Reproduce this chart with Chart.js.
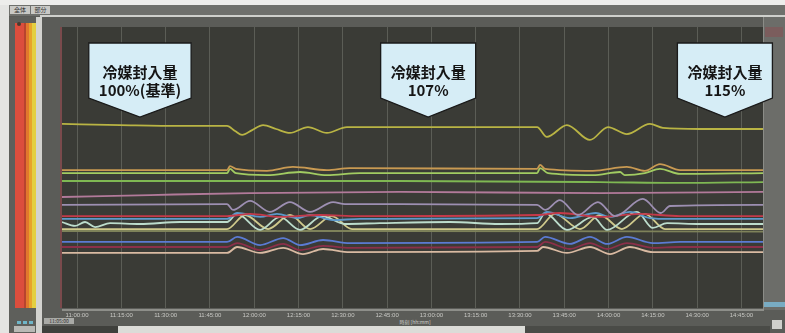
<!DOCTYPE html>
<html lang="ja">
<head>
<meta charset="utf-8">
<script src="https://cdn.jsdelivr.net/npm/chart.js@4.4.0/dist/chart.umd.min.js"></script>
<style>
  body { margin: 0; width: 785px; height: 333px; overflow: hidden; background: #5b5c58; position: relative; font-family: "Noto Sans CJK JP", "Noto Sans", sans-serif; }
  .b { position: absolute; }
  .tab { position: absolute; top: 6px; height: 8px; background: #c9c9c5; color: #333; font-size: 6px; line-height: 8px; text-align: center; }
  #grafico { position: absolute; left: 0; top: 0; }
</style>
</head>
<body>
<!-- moldura da tela do software -->
<div class="b" style="left:0;top:0;width:785px;height:5px;background:#ededeb"></div>
<div class="b" style="left:0;top:5px;width:785px;height:11px;background:#6f706c"></div>
<div class="tab" style="left:10px;width:20px">全体</div>
<div class="tab" style="left:31px;width:19px">部分</div>
<div class="b" style="left:40px;top:15px;width:745px;height:2px;background:#cfd0cc"></div>
<div class="b" style="left:0;top:5px;width:9px;height:328px;background:#e4e4e2"></div>
<div class="b" style="left:9px;top:17px;width:33px;height:316px;background:#5e5f5b"></div>
<div class="b" style="left:15px;top:23px;width:9px;height:285px;background:#dc4e3d"></div>
<div class="b" style="left:24px;top:23px;width:2px;height:285px;background:#b8442e"></div>
<div class="b" style="left:26px;top:23px;width:3px;height:285px;background:#e2782d"></div>
<div class="b" style="left:29px;top:23px;width:3px;height:285px;background:#e7a32a"></div>
<div class="b" style="left:32px;top:23px;width:4px;height:285px;background:#e3cf40"></div>
<div class="b" style="left:36px;top:17px;width:6px;height:316px;background:#d3d3cf"></div>
<div class="b" style="left:17px;top:22px;width:4px;height:4px;border-radius:2px;background:#4a3a30"></div>
<div class="b" style="left:17px;top:321px;width:4px;height:3px;background:#6fb6c8"></div>
<div class="b" style="left:23px;top:321px;width:4px;height:3px;background:#6fb6c8"></div>
<div class="b" style="left:29px;top:321px;width:4px;height:3px;background:#6fb6c8"></div>
<div class="b" style="left:14px;top:326px;width:21px;height:6px;background:#b9b9b5"></div>
<div class="b" style="left:60px;top:27px;width:2px;height:281px;background:#7a4a4c"></div>
<div class="b" style="left:763px;top:17px;width:1px;height:293px;background:#8b8c87"></div>
<div class="b" style="left:764px;top:17px;width:21px;height:293px;background:#6c6d69"></div>
<div class="b" style="left:765px;top:27px;width:18px;height:10px;background:#7b5d5d"></div>
<div class="b" style="left:764px;top:302px;width:21px;height:5px;background:#79acc3"></div>
<div class="b" style="left:62px;top:309px;width:702px;height:2px;background:#8e8f8a"></div>
<div class="b" style="left:44px;top:318px;width:30px;height:6px;background:#a9aaa6;color:#333;font-size:5px;line-height:6px;text-align:center">11:05:00</div>
<div class="b" style="left:395px;top:318px;width:40px;height:7px;color:#d0d0cc;font-size:5px;line-height:7px;text-align:center">時刻 [hh:mm]</div>
<div class="b" style="left:42px;top:326px;width:76px;height:7px;background:#3f403c"></div>
<div class="b" style="left:118px;top:326px;width:407px;height:7px;background:#dcdcd8"></div>
<div class="b" style="left:525px;top:326px;width:245px;height:7px;background:#4a4b47"></div>
<div class="b" style="left:772px;top:320px;width:10px;height:9px;background:#cfcfcb"></div>

<canvas id="grafico" width="785" height="333"></canvas>

<script>
// eixo x em minutos a partir de 11:00
const tickMinutes = [0, 15, 30, 45, 60, 75, 90, 105, 120, 135, 150, 165, 180, 195, 210, 225];
const tickLabels = ['11:00:00', '11:15:00', '11:30:00', '11:45:00', '12:00:00', '12:15:00', '12:30:00', '12:45:00',
    '13:00:00', '13:15:00', '13:30:00', '13:45:00', '14:00:00', '14:15:00', '14:30:00', '14:45:00'];

// balões (centro em minutos + texto)
const calloutTimes = [21.3, 118.9, 219.4];
const calloutLines = [['冷媒封入量', '100%(基準)'], ['冷媒封入量', '107%'], ['冷媒封入量', '115%']];

// séries: [minuto, valor em % da escala]
const serieAmarela = [[-5.1, 65.5], [14.6, 65.1], [34.9, 64.8], [50.8, 64.8], [53.5, 63.0], [55.9, 61.6], [59.3, 63.3], [63.0, 65.1], [67.4, 63.7], [72.1, 62.3], [78.2, 64.4], [84.6, 62.3], [91.4, 64.4], [109.4, 64.4], [155.8, 64.4], [159.1, 60.9], [165.9, 65.1], [173.7, 59.8], [179.8, 64.4], [186.2, 61.9], [194.0, 65.5], [198.4, 64.1], [210.9, 63.7], [232.3, 63.7]];
const serieLaranja = [[-5.1, 49.1], [50.8, 49.1], [51.8, 50.5], [53.8, 49.5], [64.3, 48.8], [73.1, 50.2], [84.6, 49.1], [92.4, 49.8], [155.8, 49.5], [156.8, 50.9], [158.5, 49.5], [174.7, 48.8], [186.2, 50.2], [192.3, 48.8], [197.4, 51.2], [204.2, 49.1], [232.3, 49.1]];
const serieVerdeClaro = [[-5.1, 48.0], [50.8, 48.0], [51.8, 49.5], [53.8, 48.0], [64.3, 47.3], [75.5, 48.4], [84.6, 47.3], [95.8, 48.0], [155.8, 48.0], [156.8, 49.8], [159.5, 48.0], [174.7, 47.3], [183.9, 48.4], [185.5, 47.3], [192.3, 48.0], [197.4, 49.5], [204.2, 47.7], [232.3, 48.0]];
const serieVerde = [[-5.1, 45.2], [109.4, 45.2], [177.1, 44.8], [204.2, 44.5], [232.3, 44.8]];
const serieRosa = [[-5.1, 39.5], [24.7, 40.2], [58.6, 40.9], [109.4, 41.3], [177.1, 40.9], [232.3, 41.3]];
const serieLavanda = [[-5.1, 36.7], [50.8, 37.0], [52.8, 34.9], [58.6, 38.1], [65.3, 34.2], [72.1, 37.7], [78.9, 34.2], [86.7, 37.7], [90.7, 37.0], [155.8, 36.7], [158.5, 34.9], [163.5, 38.4], [169.6, 33.1], [176.4, 37.7], [182.2, 32.7], [191.6, 38.8], [197.7, 33.8], [200.8, 36.3], [232.3, 36.7]];
const serieVermelha = [[-5.1, 32.7], [50.8, 32.7], [58.6, 33.5], [68.7, 32.4], [82.3, 33.1], [95.8, 32.7], [155.8, 33.1], [163.5, 33.8], [177.1, 32.4], [190.6, 33.5], [204.2, 32.7], [232.3, 32.7]];
const serieCiano = [[-5.1, 31.7], [50.8, 31.7], [54.2, 33.8], [62.0, 32.4], [67.7, 33.5], [74.5, 32.0], [78.9, 33.1], [86.7, 31.3], [95.8, 31.7], [155.8, 32.0], [159.1, 34.2], [166.9, 32.0], [175.7, 33.8], [180.5, 32.4], [187.2, 34.2], [194.0, 32.0], [200.8, 31.7], [232.3, 31.7]];
const serieBranca = [[-5.1, 30.6], [-0.7, 29.2], [2.7, 30.6], [6.1, 28.8], [11.2, 30.2], [21.3, 29.9], [34.9, 30.6], [50.8, 30.6], [54.2, 33.5], [62.0, 27.8], [68.7, 32.4], [75.5, 27.8], [83.0, 32.7], [90.7, 29.9], [102.6, 30.2], [126.3, 30.6], [143.2, 29.9], [155.8, 30.2], [158.5, 33.8], [165.9, 27.8], [174.7, 32.4], [179.5, 27.8], [189.6, 34.2], [195.0, 28.5], [199.8, 30.2], [210.9, 29.9], [232.3, 29.9]];
const serieCreme = [[-5.1, 28.1], [50.8, 28.1], [56.9, 33.1], [64.7, 28.1], [72.1, 33.1], [78.9, 28.1], [86.3, 32.7], [93.1, 28.1], [155.8, 28.1], [161.8, 33.5], [170.3, 28.1], [177.1, 33.1], [184.5, 28.1], [192.3, 33.5], [199.1, 28.1], [232.3, 28.1]];
const serieOliva = [[-5.1, 27.4], [109.4, 27.4], [232.3, 27.2]];
const serieAzul = [[-5.1, 23.5], [50.8, 23.5], [54.2, 25.3], [62.0, 22.4], [69.8, 24.9], [75.5, 22.4], [83.3, 24.2], [92.4, 23.1], [155.8, 23.5], [158.5, 25.3], [166.9, 22.8], [173.7, 25.3], [179.5, 22.8], [186.2, 25.3], [195.0, 23.1], [204.2, 23.5], [232.3, 23.5]];
const serieVinho = [[-5.1, 21.7], [50.8, 21.7], [54.2, 23.1], [62.0, 20.6], [69.8, 22.8], [75.5, 20.6], [83.3, 22.1], [92.4, 21.4], [155.8, 21.7], [158.5, 23.5], [166.9, 21.0], [173.7, 23.1], [179.5, 21.0], [186.2, 23.1], [195.0, 21.4], [204.2, 21.7], [232.3, 21.7]];
const seriePele = [[-5.1, 19.6], [50.8, 19.6], [54.2, 21.7], [62.0, 19.6], [69.8, 21.4], [76.5, 19.2], [83.3, 21.0], [92.4, 19.9], [155.8, 20.3], [157.8, 21.7], [165.9, 19.6], [173.7, 21.7], [180.5, 19.2], [187.2, 21.7], [195.0, 19.9], [232.3, 19.9]];

const series = [
    { dados: serieAmarela, cor: '#b9b444' },
    { dados: serieLaranja, cor: '#c99a52' },
    { dados: serieVerdeClaro, cor: '#a2cc62' },
    { dados: serieVerde, cor: '#7fb853' },
    { dados: serieRosa, cor: '#b27a9a' },
    { dados: serieLavanda, cor: '#9d8fb2' },
    { dados: serieVermelha, cor: '#c43a4a' },
    { dados: serieCiano, cor: '#5d9acb' },
    { dados: serieBranca, cor: '#bcdccc' },
    { dados: serieCreme, cor: '#cfc98c' },
    { dados: serieOliva, cor: '#7e825a' },
    { dados: serieAzul, cor: '#5b7bd3' },
    { dados: serieVinho, cor: '#8c304a' },
    { dados: seriePele, cor: '#d9baa2' }
];

// fundo escuro da área de plotagem
const fundoPlot = {
    id: 'fundoPlot',
    beforeDraw(chart) {
        const { ctx, chartArea: a } = chart;
        ctx.save();
        ctx.fillStyle = '#3a3b36';
        ctx.fillRect(a.left, a.top, a.right - a.left, a.bottom - a.top);
        ctx.restore();
    }
};

// balões com o texto de carga de refrigerante
const baloes = {
    id: 'baloes',
    afterDraw(chart) {
        const { ctx, chartArea: a } = chart;
        const x = chart.scales.x;
        ctx.save();
        ctx.font = 'bold 15px "Noto Sans CJK JP"';
        calloutTimes.forEach((t, i) => {
            const cx = x.getPixelForValue(t);
            const w = Math.max(...calloutLines[i].map(s => ctx.measureText(s).width)) + 20;
            const l = cx - w / 2, r = cx + w / 2;
            const top = a.top + 16, base = a.top + 71, tip = a.top + 90;
            ctx.beginPath();
            ctx.moveTo(l, top);
            ctx.lineTo(r, top);
            ctx.lineTo(r, base);
            ctx.lineTo(cx, tip);
            ctx.lineTo(l, base);
            ctx.closePath();
            ctx.fillStyle = '#d6edf6';
            ctx.fill();
            ctx.lineWidth = 1.3;
            ctx.strokeStyle = '#1a1a1a';
            ctx.stroke();
            ctx.fillStyle = '#151515';
            ctx.textAlign = 'center';
            ctx.textBaseline = 'middle';
            ctx.fillText(calloutLines[i][0], cx, a.top + 45);
            ctx.fillText(calloutLines[i][1], cx, a.top + 63);
        });
        ctx.restore();
    }
};

new Chart(document.getElementById('grafico'), {
    type: 'line',
    data: {
        datasets: series.map(s => ({
            data: s.dados.map(p => ({ x: p[0], y: p[1] })),
            borderColor: s.cor,
            borderWidth: 1.8,
            pointRadius: 0,
            cubicInterpolationMode: 'monotone'
        }))
    },
    options: {
        responsive: false,
        animation: false,
        layout: { padding: { left: 62, right: 22, top: 27, bottom: 0 } },
        plugins: { legend: { display: false }, tooltip: { enabled: false } },
        scales: {
            x: {
                type: 'linear',
                min: -5.1,
                max: 232.3,
                afterBuildTicks(scale) {
                    scale.ticks = tickMinutes.map(v => ({ value: v }));
                },
                afterFit(scale) {
                    scale.height = 25;
                },
                grid: { color: '#5b5d56', drawTicks: false },
                border: { display: false },
                ticks: {
                    autoSkip: false,
                    maxRotation: 0,
                    padding: 4,
                    color: '#c9c9c5',
                    font: { family: 'Liberation Sans', size: 6 },
                    callback: (v) => tickLabels[tickMinutes.indexOf(v)]
                }
            },
            y: {
                display: false,
                min: 0,
                max: 100
            }
        }
    },
    plugins: [fundoPlot, baloes]
});
</script>
</body>
</html>
